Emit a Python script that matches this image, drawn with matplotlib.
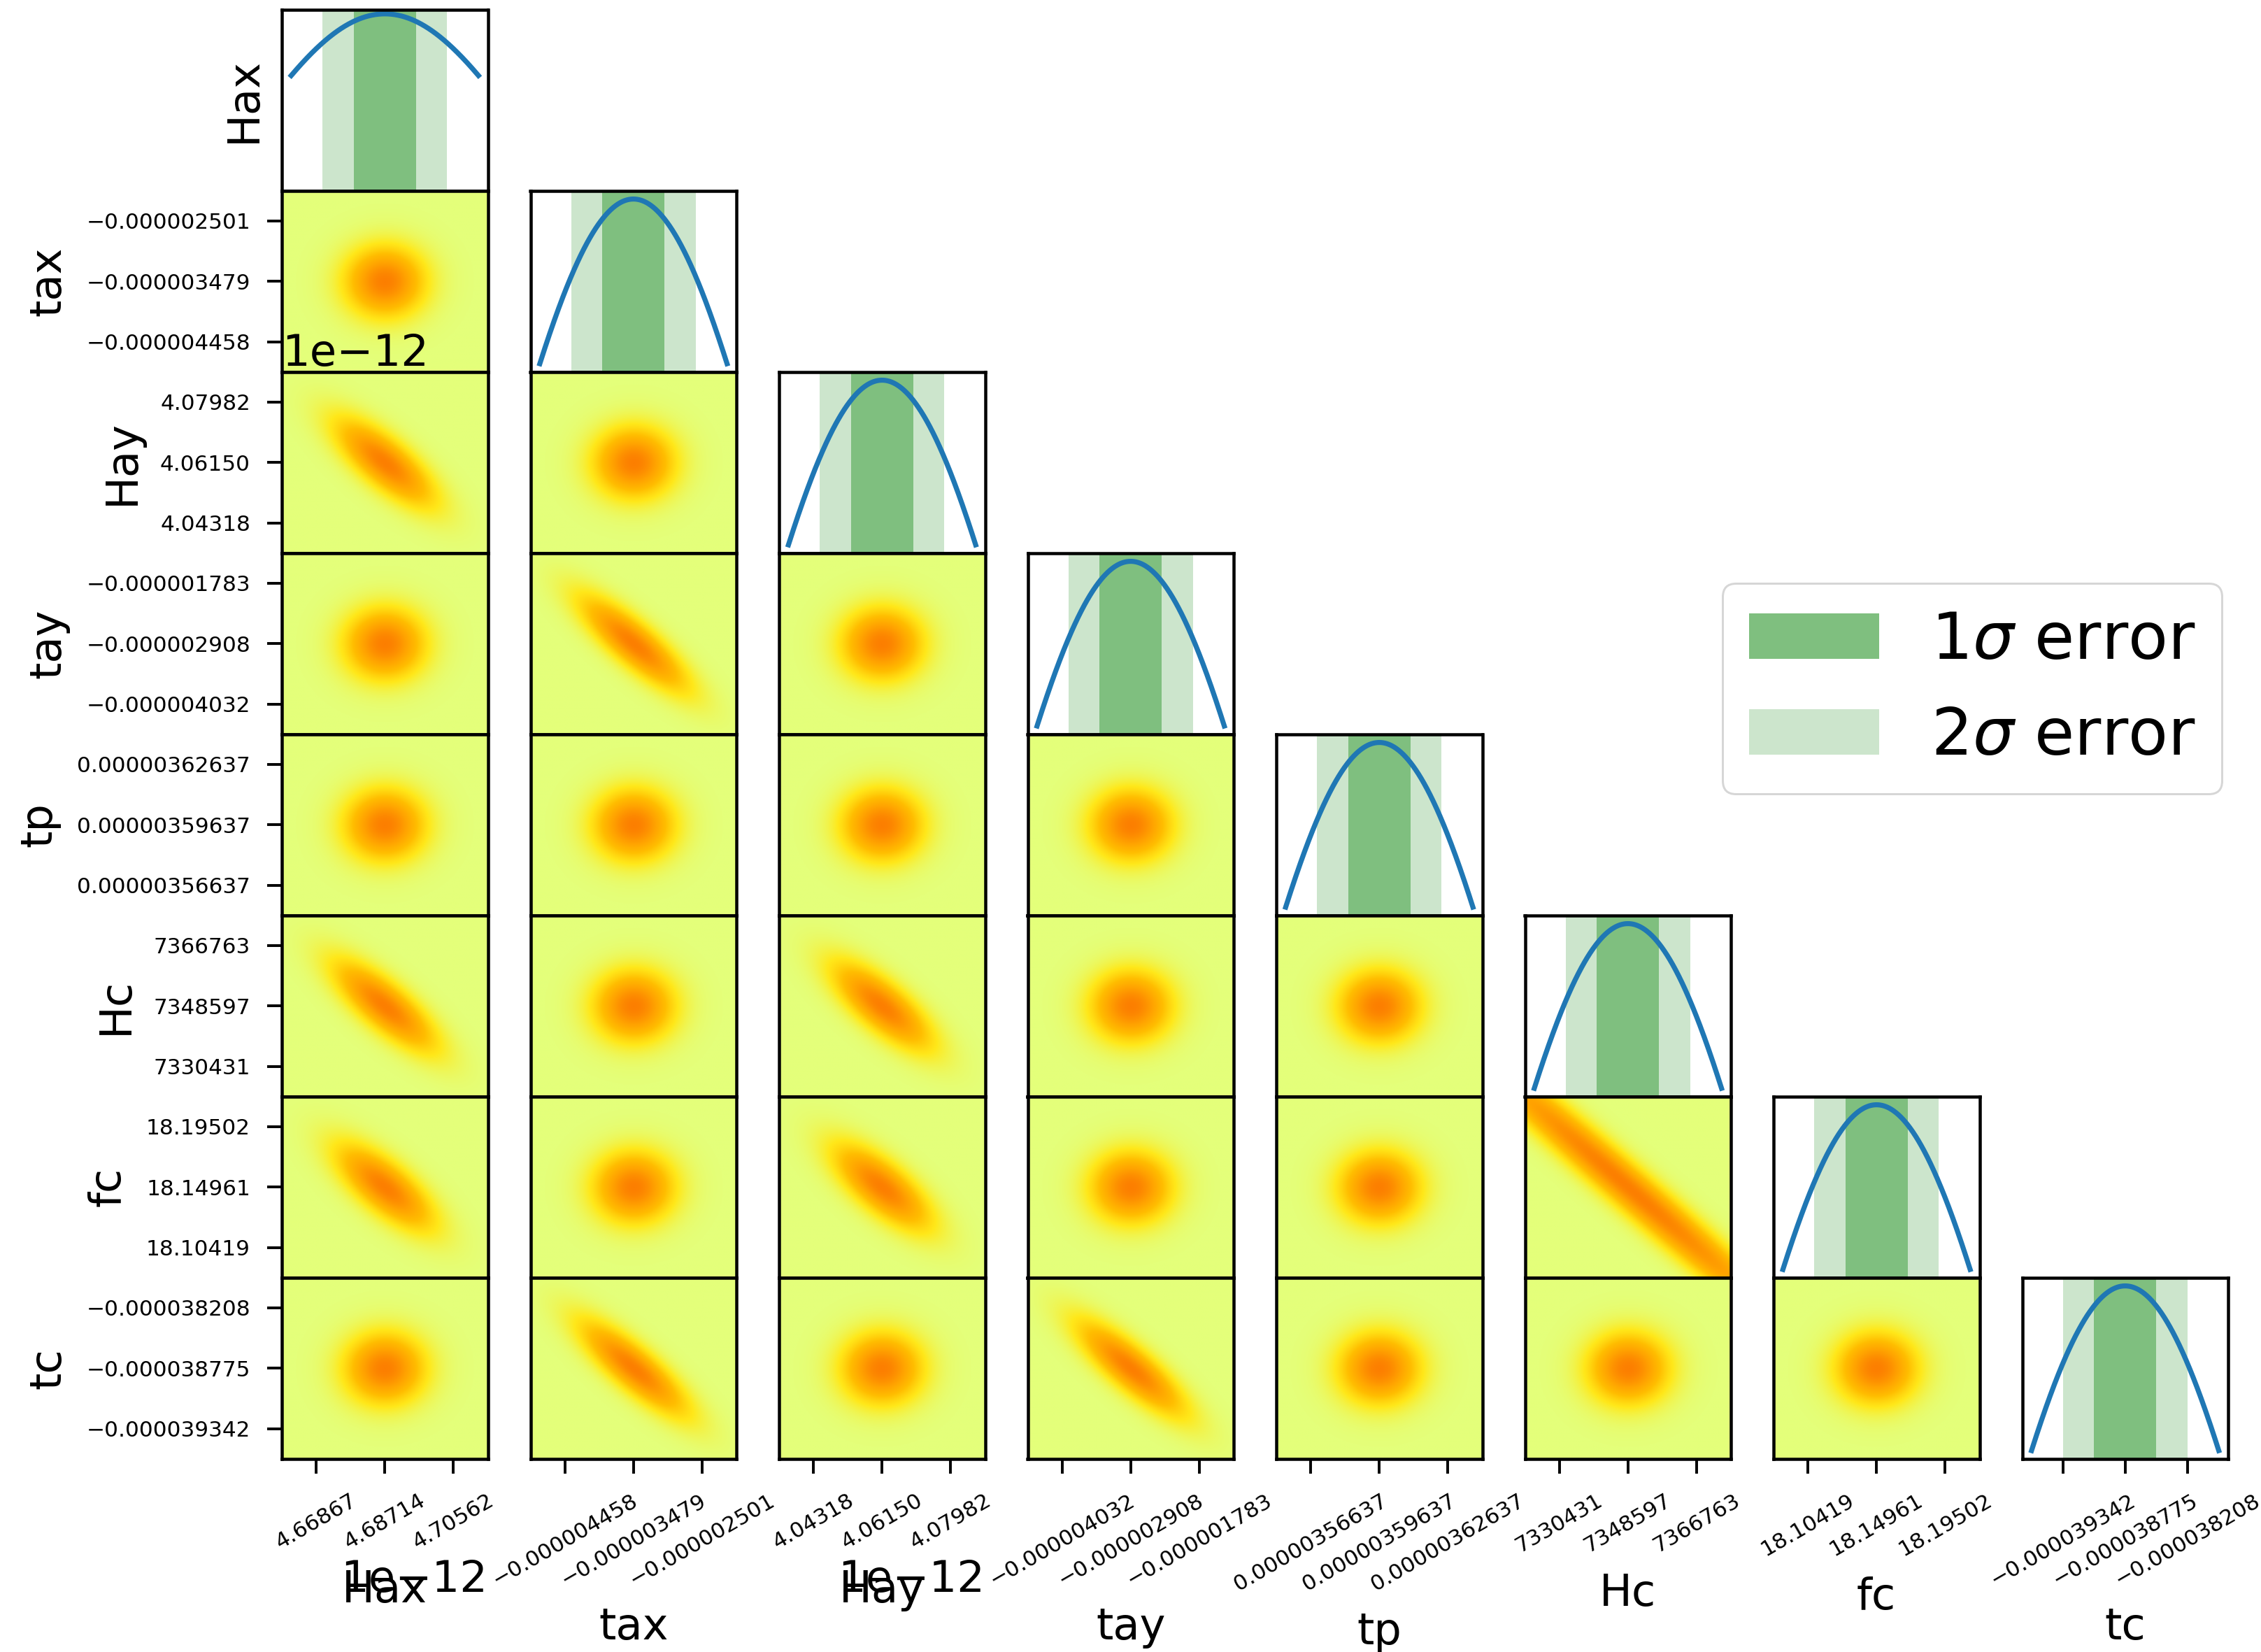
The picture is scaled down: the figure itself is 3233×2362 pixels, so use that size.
import numpy as np
import matplotlib
matplotlib.use("Agg")
import matplotlib.pyplot as plt
from matplotlib.ticker import FixedFormatter, FixedLocator, NullLocator
from matplotlib.patches import Patch

# ---------------- data ----------------
params = ["Hax", "tax", "Hay", "tay", "tp", "Hc", "fc", "tc"]
means = [4.68714e-12, -3.4795e-6, 4.06150e-12, -2.9075e-6,
         3.59637e-6, 7348597.0, 18.149605, -38.775e-6]
sigmas = [0.0092375e-12, 0.48925e-6, 0.00916e-12, 0.56225e-6,
          1.5e-8, 9083.0, 0.0227075, 0.2835e-6]

tick_labels = [
    ["4.66867", "4.68714", "4.70562"],
    ["\u22120.000004458", "\u22120.000003479", "\u22120.000002501"],
    ["4.04318", "4.06150", "4.07982"],
    ["\u22120.000004032", "\u22120.000002908", "\u22120.000001783"],
    ["0.00000356637", "0.00000359637", "0.00000362637"],
    ["7330431", "7348597", "7366763"],
    ["18.10419", "18.14961", "18.19502"],
    ["\u22120.000039342", "\u22120.000038775", "\u22120.000038208"],
]
offset_labels = ["1e\u221212", "", "1e\u221212", "", "", "", "", ""]
tick_sigma_mult = [-2, 0, 2]

# correlated pairs (row parameter, column parameter)
pair_rows = [2, 3, 5, 5, 6, 6, 6, 7, 7]
pair_cols = [0, 1, 0, 2, 0, 2, 5, 1, 3]
pair_rho = [-0.75, -0.83, -0.78, -0.75, -0.72, -0.72, -0.985, -0.83, -0.83]
pair_width = [0.96, 1.04, 0.99, 0.96, 0.94, 0.94, 3.55, 1.04, 1.04]
base_width = 0.78       # 2D blob width (in sigma) for uncorrelated pairs
curve_width = 4.5       # diagonal curve width (in sigma)

# ---------------- figure ----------------
W, H, DPI = 3233, 2362, 216
fig = plt.figure(figsize=(W / DPI, H / DPI), dpi=DPI)
plt.rcParams["axes.linewidth"] = 1.5

n = len(params)
left0 = 403 / W
colstep = 355.5 / W
axw = 294.5 / W
top0 = 1 - 13.8 / H
rowh = 259.0 / H

TICK_FS = 10.4
LABEL_FS = 20.8
LEGEND_FS = 31


def style_ticks(ax):
    ax.tick_params(axis="both", which="major", length=7, width=1.3,
                   pad=8, labelsize=TICK_FS, direction="out")


def set_axis_ticks(axis, k):
    m, s = means[k], sigmas[k]
    ticks = [m + t * s for t in tick_sigma_mult]
    axis.set_major_locator(FixedLocator(ticks))
    fmt = FixedFormatter(tick_labels[k])
    fmt.set_offset_string(offset_labels[k])
    axis.set_major_formatter(fmt)
    axis.get_offset_text().set_fontsize(LABEL_FS)


lookup = {(r, c): (rho, w) for r, c, rho, w in zip(pair_rows, pair_cols, pair_rho, pair_width)}

g = np.linspace(-3, 3, 301)
GX, GY = np.meshgrid(g, g)

for i in range(n):
    for j in range(i + 1):
        ax = fig.add_axes([left0 + j * colstep, top0 - (i + 1) * rowh, axw, rowh])
        style_ticks(ax)
        mx, sx = means[j], sigmas[j]
        if i == j:
            x = np.linspace(mx - 3 * sx, mx + 3 * sx, 400)
            y = np.exp(-0.5 * ((x - mx) / (curve_width * sx)) ** 2)
            ax.axvspan(mx - 2 * sx, mx - sx, color="green", alpha=0.2, lw=0)
            ax.axvspan(mx + sx, mx + 2 * sx, color="green", alpha=0.2, lw=0)
            ax.axvspan(mx - sx, mx + sx, color="green", alpha=0.5, lw=0)
            ax.plot(x, y, color="C0", lw=2.4)
            if i == 0:
                r = y.max() - y.min()
                ax.set_ylim(y.min() - 1.868 * r, y.max() + 0.068 * r)
            ax.yaxis.set_major_locator(NullLocator())
        else:
            my, sy = means[i], sigmas[i]
            rho, w = lookup.get((i, j), (0.0, base_width))
            Q = (GX ** 2 - 2 * rho * GX * GY + GY ** 2) / (w ** 2 * (1 - rho ** 2))
            Z = np.exp(-0.5 * Q)
            ax.imshow(Z, origin="lower", aspect="auto", cmap="Wistia",
                      interpolation="bilinear",
                      extent=[mx - 3 * sx, mx + 3 * sx, my - 3 * sy, my + 3 * sy])
            ax.set_xlim(mx - 3 * sx, mx + 3 * sx)
            ax.set_ylim(my - 3 * sy, my + 3 * sy)
            if j == 0:
                set_axis_ticks(ax.yaxis, i)
            else:
                ax.yaxis.set_major_locator(NullLocator())
        if i == n - 1:
            set_axis_ticks(ax.xaxis, j)
            for lab in ax.get_xticklabels():
                lab.set_rotation(30)
            ax.set_xlabel(params[j], fontsize=LABEL_FS, labelpad=8)
        else:
            ax.xaxis.set_major_locator(NullLocator())
        if j == 0:
            ax.set_ylabel(params[i], fontsize=LABEL_FS, labelpad=8)

handles = [Patch(facecolor="green", alpha=0.5, label=r"1$\sigma$ error"),
           Patch(facecolor="green", alpha=0.2, label=r"2$\sigma$ error")]
fig.legend(handles=handles, loc="center", bbox_to_anchor=(0.8723, 0.5832), fontsize=LEGEND_FS)

fig.savefig("out.png", dpi=DPI)
